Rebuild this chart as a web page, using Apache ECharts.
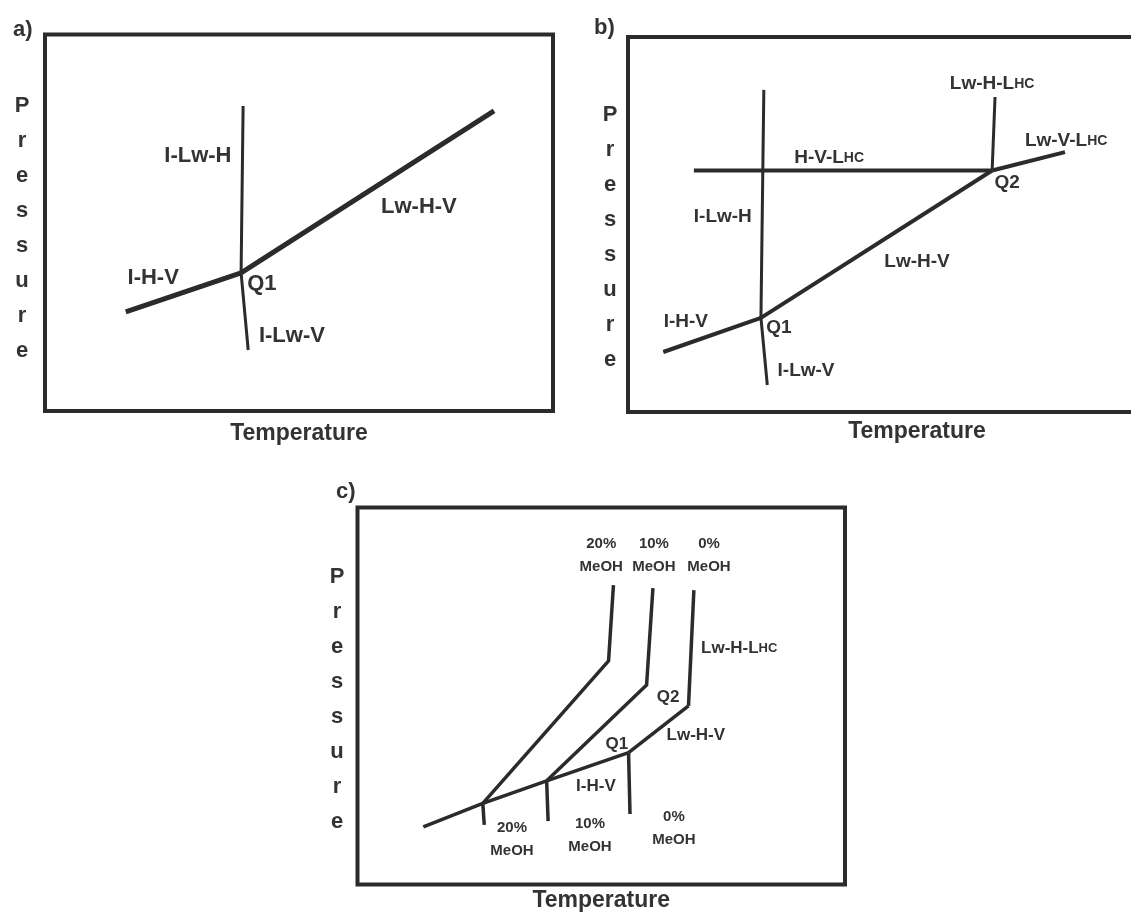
<!DOCTYPE html>
<html>
<head>
<meta charset="utf-8">
<title>Hydrate phase diagrams</title>
<script src="https://cdn.jsdelivr.net/npm/echarts@6/dist/echarts.min.js"></script>
<style>
  html, body { margin: 0; padding: 0; background: #fff; }
  #chart { width: 1131px; height: 916px; }
</style>
</head>
<body>
<div id="chart"></div>
<script>
// Axis titles and panel tags
const panelTags = ['a)', 'b)', 'c)'];
const xTitle = 'Temperature';
const yTitle = 'Pressure';

// Panel a: ice / water / hydrate / vapour boundaries around Q1 (T, P in relative units)
const aIHV  = [[15.9, 26.3], [38.6, 36.7]];
const aLwHV = [[38.6, 36.7], [88.4, 79.7]];
const aILwH = [[39.0, 81.0], [38.6, 36.7]];
const aILwV = [[38.6, 36.7], [40.0, 16.2]];
const aLabels = [
  { name: 'I-Lw-H', value: [30.1, 67.7] },
  { name: 'Lw-H-V', value: [73.6, 54.2] },
  { name: 'I-H-V',  value: [21.3, 35.3] },
  { name: 'Q1',     value: [42.7, 33.7] },
  { name: 'I-Lw-V', value: [48.6, 19.9] }
];

// Panel b: adds the liquid hydrocarbon boundaries meeting at Q2
const bIHV    = [[6.1, 16.0], [23.0, 25.1]];
const bLwHV   = [[23.0, 25.1], [63.0, 64.4]];
const bILwH   = [[23.5, 85.9], [23.0, 25.1]];
const bILwV   = [[23.0, 25.1], [24.1, 7.2]];
const bHVLhc  = [[11.4, 64.4], [63.0, 64.4]];
const bLwHLhc = [[63.0, 64.4], [63.5, 84.0]];
const bLwVLhc = [[63.0, 64.4], [75.6, 69.3]];
const bLabels = [
  { name: '{n|Lw-H-L}{s|HC}', value: [63.0, 87.5] },
  { name: '{n|Lw-V-L}{s|HC}', value: [75.8, 72.3] },
  { name: '{n|H-V-L}{s|HC}',  value: [34.8, 67.7] },
  { name: 'Q2',     value: [65.6, 61.1] },
  { name: 'I-Lw-H', value: [16.4, 52.0] },
  { name: 'Lw-H-V', value: [50.0, 40.0] },
  { name: 'I-H-V',  value: [10.0, 24.0] },
  { name: 'Q1',     value: [26.1, 22.4] },
  { name: 'I-Lw-V', value: [30.8, 10.9] }
];

// Panel c: methanol shifts the hydrate curves (0 %, 10 %, 20 % MeOH)
const cIHV      = [[13.5, 15.3], [25.7, 21.5], [38.8, 27.5], [55.6, 35.0]];
const cLwHV0    = [[55.6, 35.0], [67.9, 47.4]];
const cLwHLhc0  = [[67.9, 47.4], [69.0, 78.1]];
const cILwV0    = [[55.6, 35.0], [55.9, 18.7]];
const cMeOH10   = [[38.8, 27.5], [59.3, 52.9], [60.6, 78.6]];
const cILwV10   = [[38.8, 27.5], [39.1, 16.8]];
const cMeOH20   = [[25.7, 21.5], [51.5, 59.3], [52.5, 79.4]];
const cILwV20   = [[25.7, 21.5], [26.0, 15.8]];
const cLabels = [
  { name: '{n|Lw-H-L}{s|HC}', value: [78.3, 62.7] },
  { name: 'Q2',     value: [63.7, 49.7] },
  { name: 'Lw-H-V', value: [69.4, 39.7] },
  { name: 'Q1',     value: [53.2, 37.3] },
  { name: 'I-H-V',  value: [48.9, 26.1] }
];
const cMeOHLabels = [
  { name: '20%\nMeOH', value: [50.0, 87.4] },
  { name: '10%\nMeOH', value: [60.8, 87.4] },
  { name: '0%\nMeOH',  value: [72.1, 87.4] },
  { name: '20%\nMeOH', value: [31.7, 12.1] },
  { name: '10%\nMeOH', value: [47.7, 13.1] },
  { name: '0%\nMeOH',  value: [64.9, 15.0] }
];

const FONT = '"Liberation Sans", Arial, sans-serif';
const INK = '#2b2b2b';
const TEXT = '#333';

const grids = [
  { left: 45,    top: 34.5,  width: 508,   height: 376.5 },
  { left: 628,   top: 37,    width: 578,   height: 375 },
  { left: 357.5, top: 507.5, width: 487.5, height: 377 }
];
const xNameGap = [23, 20, 16];
// vertical "Pressure" titles: centre x and top of the first letter row
const yTitlePos = [[22, 88], [610, 97], [337, 559.5]];

function axisBase() {
  return {
    type: 'value', min: 0, max: 100,
    axisLine: { show: false }, axisTick: { show: false },
    axisLabel: { show: false }, splitLine: { show: false }
  };
}

const xAxes = grids.map((g, i) => Object.assign(axisBase(), {
  gridIndex: i,
  name: xTitle, nameLocation: 'middle', nameGap: xNameGap[i],
  nameTextStyle: { fontFamily: FONT, fontSize: 23, fontWeight: 'bold', color: TEXT, verticalAlign: 'middle' }
}));
const yAxes = grids.map((g, i) => Object.assign(axisBase(), { gridIndex: i }));

function curve(data, panel, width) {
  return {
    type: 'line', xAxisIndex: panel, yAxisIndex: panel, data: data,
    showSymbol: false, symbol: 'none', silent: true, animation: false,
    lineStyle: { color: INK, width: width, join: 'round' }
  };
}

function tags(data, panel, size, extra) {
  const base = { fontFamily: FONT, fontWeight: 'bold', color: TEXT, textBorderWidth: 0, opacity: 1 };
  return {
    type: 'scatter', xAxisIndex: panel, yAxisIndex: panel, data: data,
    symbolSize: 1, itemStyle: { color: 'rgba(255,255,255,0)' }, silent: true, animation: false,
    label: Object.assign({
      show: true, position: 'inside', formatter: p => p.name,
      fontSize: size,
      rich: {
        n: Object.assign({ fontSize: size }, base),
        s: Object.assign({ fontSize: Math.round(size * 0.74) }, base)
      }
    }, base, extra || {})
  };
}

const titlePos = [[8, 14], [589, 12], [331, 476]];

const option = {
  backgroundColor: '#fff',
  animation: false,
  title: panelTags.map((t, i) => ({
    text: t, left: titlePos[i][0], top: titlePos[i][1],
    textStyle: { fontFamily: FONT, fontSize: 22, fontWeight: 'bold', color: TEXT }
  })),
  graphic: yTitlePos.map(p => ({
    type: 'text', x: p[0], y: p[1], silent: true,
    style: {
      text: yTitle.split('').join('\n'),
      font: 'bold 22px ' + FONT, fill: TEXT,
      lineHeight: 35, align: 'center', verticalAlign: 'top'
    }
  })),
  grid: grids.map(g => Object.assign({
    show: true, borderColor: INK, borderWidth: 4, backgroundColor: 'transparent',
    outerBoundsMode: 'none', containLabel: false
  }, g)),
  xAxis: xAxes,
  yAxis: yAxes,
  series: [
    curve(aIHV, 0, 5), curve(aLwHV, 0, 5), curve(aILwH, 0, 3), curve(aILwV, 0, 3),
    tags(aLabels, 0, 22),

    curve(bIHV, 1, 4), curve(bLwHV, 1, 4), curve(bILwH, 1, 3), curve(bILwV, 1, 3),
    curve(bHVLhc, 1, 4), curve(bLwHLhc, 1, 3), curve(bLwVLhc, 1, 4),
    tags(bLabels, 1, 19),

    curve(cIHV, 2, 3.5), curve(cLwHV0, 2, 3.5), curve(cLwHLhc0, 2, 3.5), curve(cILwV0, 2, 3.5),
    curve(cMeOH10, 2, 3.5), curve(cILwV10, 2, 3.5),
    curve(cMeOH20, 2, 3.5), curve(cILwV20, 2, 3.5),
    tags(cLabels, 2, 17),
    tags(cMeOHLabels, 2, 15, { lineHeight: 23 })
  ]
};

const chart = echarts.init(document.getElementById('chart'), null, { renderer: 'canvas' });
chart.setOption(option);
</script>
</body>
</html>
